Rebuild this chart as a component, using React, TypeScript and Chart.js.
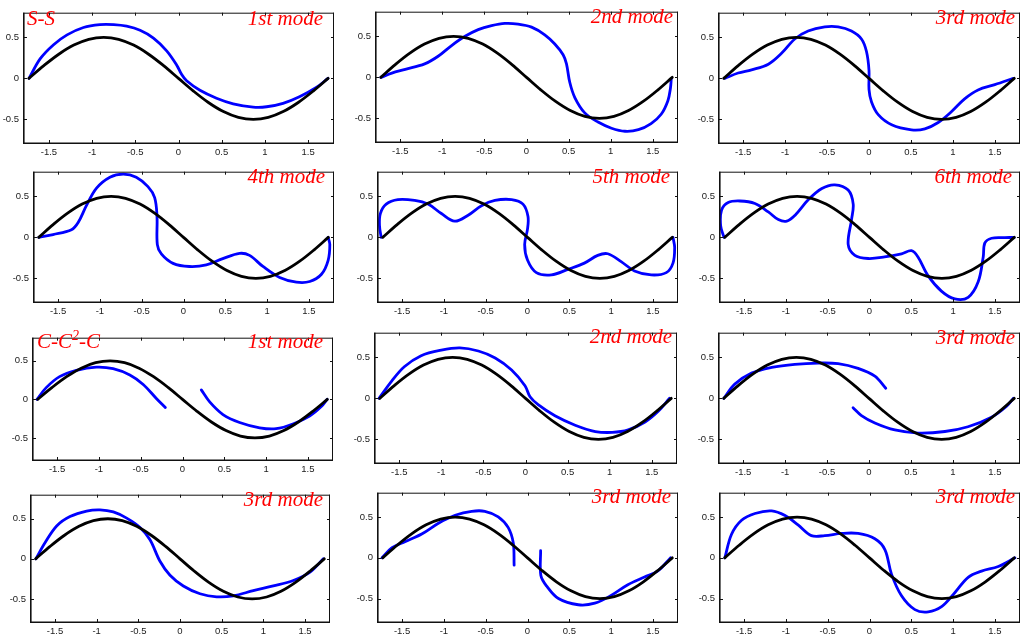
import React, { useEffect, useRef } from "react";
import { Chart, registerables } from "chart.js";
Chart.register(...registerables);

const X_TICKS = [-1.5, -1, -0.5, 0, 0.5, 1, 1.5];
const X_TICK_LABELS = ["-1.5", "-1", "-0.5", "0", "0.5", "1", "1.5"];
const Y_TICKS = [-0.5, 0, 0.5];
const Y_TICK_LABELS = ["-0.5", "0", "0.5"];

// undeformed reference arch (black)
const REF_SHAPE = [
  [-1.732, 0], [-1.559, 0.155], [-1.386, 0.294], [-1.212, 0.405], [-1.039, 0.476],
  [-0.866, 0.5], [-0.693, 0.476], [-0.52, 0.405], [-0.346, 0.294], [-0.173, 0.155],
  [0, 0], [0.173, -0.155], [0.346, -0.294], [0.52, -0.405], [0.693, -0.476],
  [0.866, -0.5], [1.039, -0.476], [1.212, -0.405], [1.386, -0.294], [1.559, -0.155], [1.732, 0],
];

// S-S mode shapes (blue)
const SS_MODE1 = [
  [-1.73, 0], [-1.6, 0.24], [-1.446, 0.41], [-1.29, 0.53], [-1.1, 0.62], [-0.91, 0.654],
  [-0.75, 0.654], [-0.6, 0.635], [-0.445, 0.585], [-0.29, 0.49], [-0.137, 0.335], [-0.02, 0.16],
  [0.037, 0.046], [0.094, -0.03], [0.248, -0.146], [0.44, -0.242], [0.633, -0.31], [0.864, -0.35],
  [1.02, -0.346], [1.21, -0.304], [1.4, -0.223], [1.6, -0.108], [1.73, 0],
];
const SS_MODE2 = [
  [-1.73, 0], [-1.6, 0.052], [-1.44, 0.097], [-1.21, 0.164], [-1.05, 0.257], [-0.89, 0.388],
  [-0.73, 0.5], [-0.574, 0.582], [-0.415, 0.63], [-0.257, 0.657], [-0.1, 0.649], [0.06, 0.612],
  [0.217, 0.519], [0.336, 0.407], [0.435, 0.276], [0.475, 0.164], [0.514, -0.06], [0.574, -0.246],
  [0.692, -0.433], [0.85, -0.545], [1.01, -0.62], [1.17, -0.657], [1.33, -0.638], [1.48, -0.563],
  [1.6, -0.45], [1.68, -0.284], [1.71, -0.134], [1.72, -0.02],
];
const SS_MODE3 = [
  [-1.72, 0], [-1.56, 0.065], [-1.4, 0.104], [-1.2, 0.173], [-1.04, 0.308], [-0.885, 0.48],
  [-0.726, 0.577], [-0.527, 0.627], [-0.368, 0.627], [-0.209, 0.577], [-0.09, 0.48], [-0.03, 0.327],
  [0, 0.096], [0, -0.135], [0.03, -0.288], [0.11, -0.442], [0.27, -0.565], [0.507, -0.627],
  [0.666, -0.615], [0.825, -0.538], [0.985, -0.404], [1.14, -0.25], [1.3, -0.142], [1.5, -0.077], [1.72, 0],
];
const SS_MODE4 = [
  [-1.73, 0], [-1.56, 0.034], [-1.34, 0.092], [-1.26, 0.18], [-1.16, 0.39], [-1.04, 0.6],
  [-0.88, 0.733], [-0.72, 0.771], [-0.565, 0.733], [-0.425, 0.618], [-0.345, 0.485], [-0.317, 0.256],
  [-0.313, -0.088], [-0.265, -0.202], [-0.125, -0.317], [0.07, -0.355], [0.273, -0.336], [0.47, -0.26],
  [0.67, -0.195], [0.79, -0.22], [0.95, -0.355], [1.15, -0.489], [1.35, -0.546], [1.51, -0.538],
  [1.65, -0.45], [1.73, -0.28], [1.75, -0.088], [1.73, 0],
];
const SS_MODE5 = [
  [-1.75, 0], [-1.77, 0.14], [-1.76, 0.29], [-1.69, 0.405], [-1.55, 0.46], [-1.35, 0.45],
  [-1.19, 0.405], [-1.03, 0.29], [-0.87, 0.197], [-0.71, 0.27], [-0.55, 0.386], [-0.39, 0.45],
  [-0.19, 0.46], [-0.054, 0.405], [0.006, 0.254], [0, 0.1], [-0.034, -0.087], [0, -0.277],
  [0.106, -0.43], [0.286, -0.458], [0.484, -0.39], [0.68, -0.314], [0.84, -0.22], [0.96, -0.2],
  [1.12, -0.295], [1.28, -0.409], [1.48, -0.458], [1.66, -0.43], [1.74, -0.314], [1.76, -0.125], [1.74, 0],
];
const SS_MODE6 = [
  [-1.74, 0], [-1.78, 0.14], [-1.77, 0.33], [-1.69, 0.424], [-1.55, 0.443], [-1.37, 0.413],
  [-1.21, 0.31], [-1.09, 0.216], [-0.99, 0.197], [-0.89, 0.27], [-0.73, 0.46], [-0.57, 0.595],
  [-0.415, 0.64], [-0.255, 0.576], [-0.195, 0.405], [-0.215, 0.216], [-0.255, -0.087], [-0.175, -0.22],
  [-0.016, -0.258], [0.18, -0.239], [0.383, -0.2], [0.503, -0.163], [0.58, -0.239], [0.7, -0.466],
  [0.86, -0.655], [1.02, -0.75], [1.18, -0.731], [1.3, -0.542], [1.36, -0.239], [1.38, -0.068],
  [1.46, -0.011], [1.62, -0.004], [1.73, 0],
];

// C-C2-C mode shapes (blue)
const CC_MODE1_A = [
  [-1.74, 0], [-1.63, 0.152], [-1.47, 0.295], [-1.27, 0.377], [-1.03, 0.418], [-0.83, 0.398],
  [-0.63, 0.316], [-0.47, 0.193], [-0.31, 0.008], [-0.205, -0.107],
];
const CC_MODE1_B = [
  [0.225, 0.123], [0.325, -0.033], [0.484, -0.197], [0.683, -0.3], [0.923, -0.369], [1.12, -0.381],
  [1.32, -0.32], [1.52, -0.217], [1.66, -0.094], [1.73, 0],
];
const CC_MODE2 = [
  [-1.74, 0], [-1.59, 0.21], [-1.44, 0.385], [-1.24, 0.52], [-1.0, 0.588], [-0.78, 0.615],
  [-0.56, 0.577], [-0.36, 0.492], [-0.165, 0.346], [-0.006, 0.154], [0.054, 0.019], [0.15, -0.077],
  [0.35, -0.212], [0.59, -0.327], [0.83, -0.404], [1.03, -0.415], [1.22, -0.385], [1.42, -0.288],
  [1.58, -0.154], [1.71, 0],
];
const CC_MODE3_A = [
  [-1.73, 0], [-1.6, 0.173], [-1.4, 0.308], [-1.16, 0.377], [-0.885, 0.415], [-0.607, 0.43],
  [-0.368, 0.423], [-0.13, 0.365], [0.07, 0.27], [0.2, 0.123],
];
const CC_MODE3_B = [
  [-0.19, -0.115], [-0.09, -0.21], [0.07, -0.3], [0.308, -0.385], [0.587, -0.423], [0.905, -0.404],
  [1.18, -0.346], [1.46, -0.23], [1.64, -0.096], [1.72, 0],
];
const VAR_MODE_A = [
  [-1.73, 0], [-1.62, 0.2], [-1.48, 0.41], [-1.32, 0.527], [-1.12, 0.596], [-0.96, 0.611],
  [-0.8, 0.585], [-0.64, 0.508], [-0.48, 0.392], [-0.36, 0.238], [-0.24, -0.03], [-0.12, -0.204],
  [0.04, -0.338], [0.24, -0.435], [0.44, -0.473], [0.64, -0.461], [0.88, -0.396], [1.12, -0.338],
  [1.36, -0.27], [1.56, -0.165], [1.72, 0],
];
const VAR_MODE_B1 = [
  [-1.74, 0], [-1.62, 0.125], [-1.46, 0.2], [-1.26, 0.295], [-1.06, 0.428], [-0.865, 0.523],
  [-0.667, 0.572], [-0.51, 0.572], [-0.35, 0.504], [-0.23, 0.371], [-0.17, 0.182], [-0.16, -0.09],
];
const VAR_MODE_B2 = [
  [0.157, 0.087], [0.16, -0.216], [0.23, -0.348], [0.37, -0.5], [0.607, -0.576], [0.805, -0.557],
  [1.0, -0.462], [1.2, -0.33], [1.4, -0.235], [1.56, -0.16], [1.71, 0],
];
const VAR_MODE_C = [
  [-1.73, 0], [-1.65, 0.29], [-1.53, 0.462], [-1.37, 0.545], [-1.17, 0.576], [-1.01, 0.519],
  [-0.855, 0.405], [-0.695, 0.273], [-0.535, 0.273], [-0.335, 0.3], [-0.136, 0.3], [0.064, 0.235],
  [0.184, 0.102], [0.263, -0.2], [0.383, -0.466], [0.543, -0.636], [0.702, -0.663], [0.862, -0.6],
  [1.02, -0.428], [1.18, -0.239], [1.34, -0.163], [1.54, -0.106], [1.74, 0],
];

const MODE_LABELS = [
  "1st mode", "2nd mode", "3rd mode", "4th mode", "5th mode", "6th mode",
  "1st mode", "2nd mode", "3rd mode", "3rd mode", "3rd mode", "3rd mode",
];
const PANEL_CURVES = [
  [SS_MODE1], [SS_MODE2], [SS_MODE3], [SS_MODE4], [SS_MODE5], [SS_MODE6],
  [CC_MODE1_A, CC_MODE1_B], [CC_MODE2], [CC_MODE3_A, CC_MODE3_B],
  [VAR_MODE_A], [VAR_MODE_B1, VAR_MODE_B2], [VAR_MODE_C],
];

// layout: plot box [left, top, right, bottom], label right edge & baseline
const LAYOUT = [
  { box: [23, 5, 334, 144], tr: 323, tb: 26 },
  { box: [375, 4, 678, 143], tr: 673, tb: 24 },
  { box: [718, 5, 1020, 144], tr: 1015, tb: 25 },
  { box: [33, 164, 334, 303], tr: 325, tb: 184 },
  { box: [377, 164, 678, 303], tr: 670, tb: 184 },
  { box: [719, 164, 1020, 303], tr: 1012, tb: 184 },
  { box: [32, 330, 333, 461], tr: 323, tb: 349 },
  { box: [374, 325, 677, 464], tr: 672, tb: 344 },
  { box: [718, 325, 1020, 464], tr: 1015, tb: 345 },
  { box: [30, 487, 330, 623], tr: 323, tb: 507 },
  { box: [377, 485, 678, 623], tr: 671, tb: 504 },
  { box: [719, 485, 1020, 623], tr: 1015, tb: 504 },
];

const framePlugin = {
  id: "frame",
  afterDraw(chart: any) {
    const { ctx, chartArea } = chart;
    const { left, top, right, bottom } = chartArea;
    const xs = chart.scales.x;
    const ys = chart.scales.y;
    ctx.save();
    ctx.strokeStyle = "#111";
    ctx.lineWidth = 1;
    ctx.beginPath();
    ctx.moveTo(left, top + 0.5);
    ctx.lineTo(right, top + 0.5);
    ctx.moveTo(right - 0.5, top);
    ctx.lineTo(right - 0.5, bottom);
    ctx.stroke();
    ctx.lineWidth = 1.6;
    ctx.beginPath();
    ctx.moveTo(left + 0.8, top);
    ctx.lineTo(left + 0.8, bottom);
    ctx.moveTo(left, bottom - 0.8);
    ctx.lineTo(right, bottom - 0.8);
    ctx.stroke();
    ctx.lineWidth = 1;
    ctx.beginPath();
    X_TICKS.forEach((v) => {
      const p = Math.round(xs.getPixelForValue(v)) + 0.5;
      ctx.moveTo(p, bottom);
      ctx.lineTo(p, bottom - 4);
      ctx.moveTo(p, top);
      ctx.lineTo(p, top + 3);
    });
    Y_TICKS.forEach((v) => {
      const p = Math.round(ys.getPixelForValue(v)) + 0.5;
      ctx.moveTo(left, p);
      ctx.lineTo(left + 4, p);
      ctx.moveTo(right, p);
      ctx.lineTo(right - 3, p);
    });
    ctx.stroke();
    ctx.restore();
  },
};

const PAD_L = 30;
const PAD_T = 2;
const PAD_R = 4;
const PAD_B = 16;

function lineSet(points: number[][], color: string) {
  return {
    data: points.map(([x, y]) => ({ x, y })),
    showLine: true,
    borderColor: color,
    backgroundColor: color,
    borderWidth: 2.8,
    pointRadius: 0,
    tension: 0.35,
    fill: false,
    borderCapStyle: "round",
    borderJoinStyle: "round",
  };
}

function Panel({ idx }: { idx: number }) {
  const ref = useRef<HTMLCanvasElement>(null);
  const lay = LAYOUT[idx];
  const [L, T, R, B] = lay.box;
  const w = R - L + PAD_L + PAD_R;
  const h = B - T + PAD_T + PAD_B;
  useEffect(() => {
    if (!ref.current) return;
    const font = { family: "'Liberation Sans', Arial, sans-serif", size: 9.5 };
    const chart = new Chart(ref.current, {
      type: "scatter",
      data: {
        datasets: [
          lineSet(REF_SHAPE, "#000000"),
          ...PANEL_CURVES[idx].map((c) => lineSet(c, "#0000ff")),
        ] as any,
      },
      options: {
        responsive: false,
        maintainAspectRatio: false,
        animation: false,
        events: [],
        layout: { padding: { left: 0, right: PAD_R, top: PAD_T, bottom: 0 } },
        plugins: { legend: { display: false }, tooltip: { enabled: false } },
        scales: {
          x: {
            type: "linear",
            min: -1.8,
            max: 1.8,
            afterBuildTicks: (s: any) => {
              s.ticks = X_TICKS.map((v) => ({ value: v }));
            },
            afterFit: (s: any) => {
              s.height = PAD_B;
            },
            ticks: {
              autoSkip: false,
              maxRotation: 0,
              padding: 3,
              color: "#1a1a1a",
              font,
              callback: (_v: any, i: number) => X_TICK_LABELS[i],
            },
            grid: { display: false, drawTicks: false },
            border: { display: false },
          },
          y: {
            type: "linear",
            min: -0.8,
            max: 0.8,
            afterBuildTicks: (s: any) => {
              s.ticks = Y_TICKS.map((v) => ({ value: v }));
            },
            afterFit: (s: any) => {
              s.width = PAD_L;
            },
            ticks: {
              autoSkip: false,
              padding: 4,
              color: "#1a1a1a",
              font,
              callback: (_v: any, i: number) => Y_TICK_LABELS[i],
            },
            grid: { display: false, drawTicks: false },
            border: { display: false },
          },
        },
      } as any,
      plugins: [framePlugin],
    });
    return () => chart.destroy();
  }, [idx]);

  const titleStyle: React.CSSProperties = {
    position: "absolute",
    right: 1029 - lay.tr,
    top: lay.tb - 17.6,
    font: "italic 21px 'Liberation Serif', 'Times New Roman', serif",
    lineHeight: "21px",
    color: "#ff0000",
    whiteSpace: "nowrap",
  };
  return (
    <>
      <canvas
        ref={ref}
        width={w}
        height={h}
        style={{ position: "absolute", left: L - PAD_L, top: T - PAD_T, width: w, height: h }}
      />
      <span style={titleStyle}>{MODE_LABELS[idx]}</span>
    </>
  );
}

const bcStyle = (left: number, base: number): React.CSSProperties => ({
  position: "absolute",
  left,
  top: base - 17.6,
  font: "italic 21px 'Liberation Serif', 'Times New Roman', serif",
  lineHeight: "21px",
  color: "#ff0000",
  whiteSpace: "nowrap",
});

export default function App() {
  return (
    <div
      style={{
        position: "absolute",
        left: 0,
        top: 0,
        width: 1029,
        height: 636,
        overflow: "hidden",
        background: "#ffffff",
      }}
    >
      {LAYOUT.map((_, i) => (
        <Panel key={i} idx={i} />
      ))}
      <span style={bcStyle(27, 26)}>S-S</span>
      <span style={bcStyle(37, 349)}>
        C-C
        <span style={{ fontSize: 14, position: "relative", top: -8 }}>2</span>
        -C
      </span>
    </div>
  );
}
